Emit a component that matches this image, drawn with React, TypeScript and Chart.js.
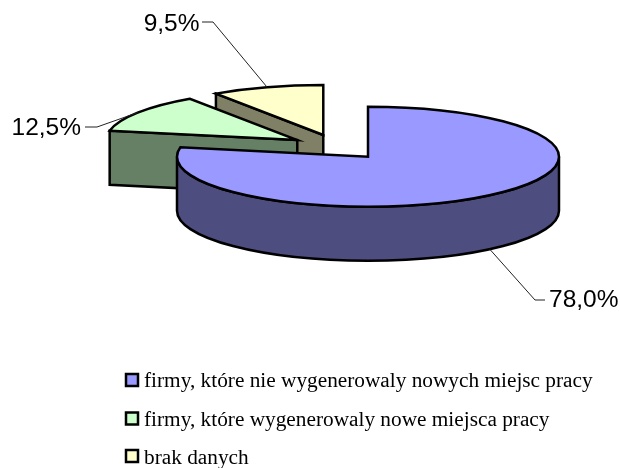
import React, { useEffect, useRef } from "react";
import { Chart, registerables } from "chart.js";

Chart.register(...registerables);

const categories = [
  "firmy, które nie wygenerowaly nowych miejsc pracy",
  "firmy, które wygenerowaly nowe miejsca pracy",
  "brak danych",
];
const shares = [78.0, 12.5, 9.5];
const topColors = ["#9999FF", "#CCFFCC", "#FFFFCC"];
const sideColors = ["#4D4D80", "#668066", "#808066"];

const TILT = 50 / 191;
const DEPTH = 54;
const BASE_Y = 147;
const EXPLODE = 48;

const elbows = [
  { ex: 535, ey: 300, sx: 545, sy: 300, tx: 549, ty: 300.5, align: "left" },
  { ex: 97, ey: 127, sx: 85, sy: 127, tx: 81, ty: 128, align: "right" },
  { ex: 213, ey: 22, sx: 202, sy: 22, tx: 199.5, ty: 24, align: "right" },
];

const legendRows = [380, 418.5, 456];
const legendBaselines = [387, 426, 464];

const pie3d = {
  id: "pie3d",
  beforeDatasetDraw(chart: any) {
    const ctx = chart.ctx;
    const arcs = chart.getDatasetMeta(0).data;
    const slices = arcs.map((arc: any, i: number) => {
      const p = arc.getProps(["x", "startAngle", "endAngle", "outerRadius"]);
      const mid = (p.startAngle + p.endAngle) / 2;
      const off = arc.options.offset || 0;
      return {
        i,
        a0: p.startAngle,
        a1: p.endAngle,
        mid,
        rx: p.outerRadius,
        ry: p.outerRadius * TILT,
        cx: p.x + Math.cos(mid) * off,
        cy: BASE_Y + Math.sin(mid) * off * TILT,
      };
    });
    slices.sort((a: any, b: any) => a.cy - b.cy);

    ctx.save();
    ctx.lineWidth = 2.5;
    ctx.strokeStyle = "#000";
    ctx.lineJoin = "miter";

    const pt = (s: any, a: number) => [s.cx + s.rx * Math.cos(a), s.cy + s.ry * Math.sin(a)];
    const face = (s: any, a: number) => {
      const [x, y] = pt(s, a);
      ctx.beginPath();
      ctx.moveTo(s.cx, s.cy);
      ctx.lineTo(x, y);
      ctx.lineTo(x, y + DEPTH);
      ctx.lineTo(s.cx, s.cy + DEPTH);
      ctx.closePath();
      ctx.fillStyle = sideColors[s.i];
      ctx.fill();
      ctx.stroke();
    };

    for (const s of slices) {
      if (Math.cos(s.a0) < -1e-6) face(s, s.a0);
      if (Math.cos(s.a1) > 1e-6) face(s, s.a1);

      const from = Math.max(s.a0, 0);
      const to = Math.min(s.a1, Math.PI);
      if (to > from) {
        ctx.beginPath();
        ctx.ellipse(s.cx, s.cy, s.rx, s.ry, 0, from, to);
        ctx.ellipse(s.cx, s.cy + DEPTH, s.rx, s.ry, 0, to, from, true);
        ctx.closePath();
        ctx.fillStyle = sideColors[s.i];
        ctx.fill();
        ctx.stroke();
      }

      ctx.beginPath();
      ctx.moveTo(s.cx, s.cy);
      ctx.ellipse(s.cx, s.cy, s.rx, s.ry, 0, s.a0, s.a1);
      ctx.closePath();
      ctx.fillStyle = topColors[s.i];
      ctx.fill();
      ctx.stroke();
    }

    for (const s of slices) {
      const e = elbows[s.i];
      let [ax, ay] = pt(s, s.mid);
      if (Math.sin(s.mid) > 0) ay += DEPTH;
      ctx.beginPath();
      ctx.moveTo(ax, ay);
      ctx.lineTo(e.ex, e.ey);
      ctx.lineTo(e.sx, e.sy);
      ctx.lineWidth = 1;
      ctx.strokeStyle = "#222";
      ctx.stroke();
      ctx.fillStyle = "#000";
      ctx.font = "24.5px 'Liberation Sans'";
      ctx.textAlign = e.align;
      ctx.textBaseline = "middle";
      ctx.fillText(shares[s.i].toFixed(1).replace(".", ",") + "%", e.tx, e.ty);
    }

    categories.forEach((label, i) => {
      ctx.fillStyle = topColors[i];
      ctx.strokeStyle = "#000";
      ctx.lineWidth = 2.5;
      ctx.fillRect(126, legendRows[i] - 6, 12, 12);
      ctx.strokeRect(126, legendRows[i] - 6, 12, 12);
      ctx.fillStyle = "#000";
      ctx.font = "21.3px 'Liberation Serif'";
      ctx.textAlign = "left";
      ctx.textBaseline = "alphabetic";
      ctx.fillText(label, 144, legendBaselines[i]);
    });
    ctx.restore();
    return false;
  },
};

export default function App() {
  const ref = useRef<HTMLCanvasElement>(null);
  useEffect(() => {
    const chart = new Chart(ref.current as HTMLCanvasElement, {
      type: "pie",
      data: {
        labels: categories,
        datasets: [
          {
            data: shares,
            backgroundColor: topColors,
            borderColor: "#000",
            borderWidth: 2,
            offset: EXPLODE,
          },
        ],
      },
      options: {
        animation: false,
        responsive: false,
        layout: { padding: { left: 54.8, right: 0, top: 18, bottom: 18 } },
        plugins: { legend: { display: false }, tooltip: { enabled: false } },
      },
      plugins: [pie3d],
    } as any);
    return () => chart.destroy();
  }, []);
  return (
    <canvas
      ref={ref}
      width={620}
      height={468}
      style={{ position: "absolute", left: 0, top: 0, width: 620, height: 468, display: "block", background: "#fff" }}
    />
  );
}
